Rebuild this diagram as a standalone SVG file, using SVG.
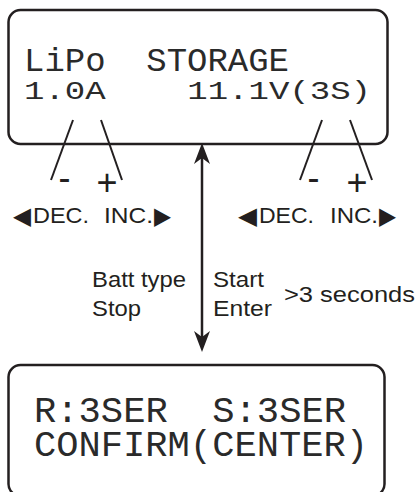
<svg xmlns="http://www.w3.org/2000/svg" width="420" height="492" viewBox="0 0 420 492">
<style>
.box{fill:#fff;stroke:#231f20;stroke-width:2.5}
.lcd{font-family:"Liberation Mono","DejaVu Sans Mono",monospace;fill:#2a2a2a}
.lbl{font-family:"Liberation Sans",Arial,sans-serif;font-size:22.5px;fill:#231f20}
.sym{font-family:"DejaVu Sans","Liberation Sans",sans-serif;font-size:24px;fill:#231f20}
.pm{font-family:"Liberation Sans",Arial,sans-serif;font-size:36px;fill:#231f20;text-anchor:middle}
.ln{stroke:#231f20;stroke-width:2;fill:none}
.arr{stroke:#231f20;stroke-width:2.5;fill:none}
</style>
<defs>
<marker id="ah" viewBox="0 -8 21 16" markerWidth="21" markerHeight="16" refX="6" refY="0" markerUnits="userSpaceOnUse" orient="auto-start-reverse">
<path d="M0,-8 L21,0 L0,8 L6,0 Z" fill="#231f20"/>
</marker>
</defs>
<rect width="420" height="492" fill="#fff"/>
<g id="screen-top">
<rect class="box" x="8.5" y="10" width="379" height="134" rx="12"/>
<text class="lcd" xml:space="preserve"><tspan x="24" y="71" font-size="33" textLength="265" lengthAdjust="spacingAndGlyphs">LiPo  STORAGE</tspan><tspan x="24" y="99" font-size="26" textLength="347" lengthAdjust="spacingAndGlyphs">1.0A    11.1V(3S)</tspan></text>
</g>
<g id="screen-bottom">
<rect class="box" x="8.5" y="365" width="376" height="131" rx="12"/>
<text class="lcd" xml:space="preserve"><tspan x="34" y="422" font-size="37" textLength="312" lengthAdjust="spacingAndGlyphs">R:3SER  S:3SER</tspan><tspan x="34" y="456" font-size="36" textLength="334" lengthAdjust="spacingAndGlyphs">CONFIRM(CENTER)</tspan></text>
</g>
<g id="connectors">
<line class="arr" x1="202" y1="158" x2="202" y2="337" marker-start="url(#ah)" marker-end="url(#ah)"/>
<line class="ln" x1="73" y1="120" x2="51" y2="180"/>
<line class="ln" x1="101" y1="120" x2="122" y2="180"/>
<line class="ln" x1="322" y1="120" x2="300" y2="180"/>
<line class="ln" x1="350" y1="120" x2="372" y2="180"/>
</g>
<g id="keys-left">
<text class="pm" x="64.5" y="190">-</text>
<text class="pm" x="107" y="195">+</text>
<text class="sym" x="13" y="224" textLength="18" lengthAdjust="spacingAndGlyphs">◀</text>
<text class="lbl" x="33" y="223" textLength="56" lengthAdjust="spacingAndGlyphs">DEC.</text>
<text class="lbl" x="104" y="223" textLength="49" lengthAdjust="spacingAndGlyphs">INC.</text>
<text class="sym" x="154" y="224" textLength="17" lengthAdjust="spacingAndGlyphs">▶</text>
</g>
<g id="keys-right">
<text class="pm" x="313.5" y="190">-</text>
<text class="pm" x="357" y="195">+</text>
<text class="sym" x="238" y="224" textLength="19" lengthAdjust="spacingAndGlyphs">◀</text>
<text class="lbl" x="259" y="223" textLength="55" lengthAdjust="spacingAndGlyphs">DEC.</text>
<text class="lbl" x="330" y="223" textLength="48" lengthAdjust="spacingAndGlyphs">INC.</text>
<text class="sym" x="379" y="224" textLength="17" lengthAdjust="spacingAndGlyphs">▶</text>
</g>
<g id="arrow-labels">
<text class="lbl" x="92" y="287" textLength="94" lengthAdjust="spacingAndGlyphs">Batt type</text>
<text class="lbl" x="92" y="316" textLength="49" lengthAdjust="spacingAndGlyphs">Stop</text>
<text class="lbl" x="213" y="287" textLength="51" lengthAdjust="spacingAndGlyphs">Start</text>
<text class="lbl" x="213" y="316" textLength="59" lengthAdjust="spacingAndGlyphs">Enter</text>
<text class="lbl" x="284" y="302" textLength="131" lengthAdjust="spacingAndGlyphs">&gt;3 seconds</text>
</g>
</svg>
